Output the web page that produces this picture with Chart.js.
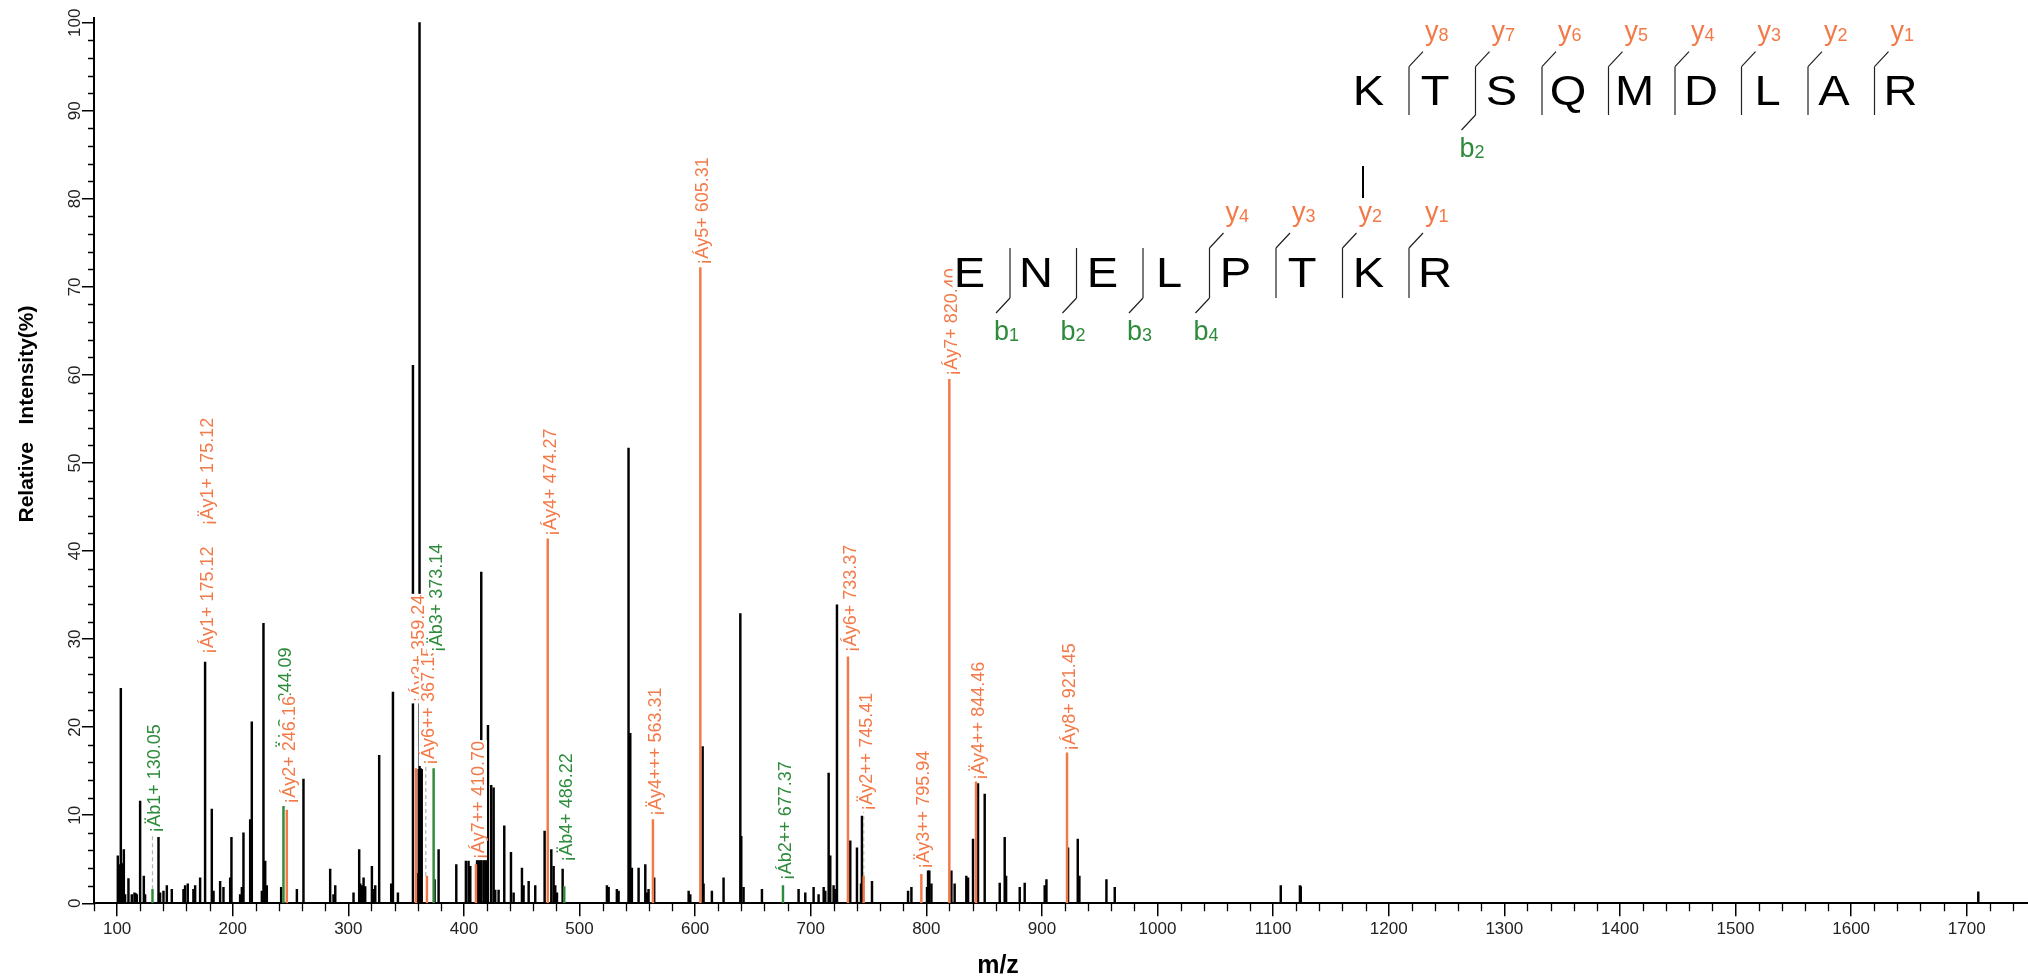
<!DOCTYPE html>
<html lang="en">
<head>
<meta charset="UTF-8" />
<title>Cross-linked peptide MS2 spectrum</title>
<script src="https://cdn.jsdelivr.net/npm/chart.js"></script>
<style>
  html, body { margin: 0; padding: 0; background: #fff; }
  #wrap { width: 2028px; height: 980px; }
</style>
</head>
<body>
<div id="wrap"><canvas id="spectrum" width="2028" height="980"></canvas></div>
<script>
// unmatched peaks: m/z and relative intensity (%)
const peakMz = [100.6, 101.7, 103.2, 104.6, 105.8, 106.9, 109.8, 112.7, 115.0, 116.2, 117.0, 119.9, 123.1, 124.2,
  135.8, 137.2, 140.1, 143.0, 147.3, 157.4, 158.8, 161.1, 166.0, 167.5, 171.8, 176.1, 181.9, 183.4, 189.1, 192.0,
  197.8, 198.9, 206.4, 207.9, 209.3, 215.1, 216.5, 225.2, 226.6, 228.1, 229.5, 241.9, 255.5, 261.2, 284.3, 287.2,
  288.7, 304.5, 309.4, 310.3, 311.7, 313.2, 314.6, 320.4, 321.8, 323.3, 326.7, 337.1, 338.6, 342.9, 355.9, 359.6,
  360.9, 361.6, 362.6, 363.5, 374.6, 378.1, 393.4, 401.7, 404.0, 405.5, 411.4, 412.7, 414.1, 415.0, 417.0, 418.5,
  419.9, 420.8, 423.6, 425.7, 427.1, 430.0, 434.9, 440.7, 443.0, 450.2, 451.6, 456.0, 461.7, 469.8, 475.6, 477.6,
  479.0, 480.5, 485.4, 523.7, 525.2, 532.3, 533.8, 542.4, 543.9, 545.3, 551.1, 556.9, 558.3, 559.7, 564.6, 594.4,
  595.8, 606.5, 607.3, 614.5, 624.6, 639.1, 639.9, 641.9, 657.8, 689.5, 695.3, 702.5, 706.8, 711.2, 712.6, 715.5,
  716.9, 719.8, 721.3, 722.7, 734.2, 740.0, 743.5, 744.3, 753.0, 784.2, 787.1, 800.6, 801.5, 802.6, 804.4, 821.7,
  824.5, 834.6, 836.1, 840.4, 844.7, 850.5, 863.5, 867.8, 869.0, 880.8, 885.1, 902.4, 903.9, 922.6, 931.0, 932.4,
  955.8, 963.0, 1106.6, 1123.2, 1123.9, 1710.0];
const peakInt = [5.4, 4.4, 24.4, 4.5, 6.1, 1.0, 2.8, 1.0, 1.2, 1.1, 1.0, 11.6, 3.1, 1.0,
  7.5, 1.2, 1.4, 2.0, 1.6, 1.6, 2.0, 2.2, 1.6, 2.0, 2.9, 27.4, 10.7, 1.4, 2.5, 1.8,
  2.9, 7.5, 1.0, 1.8, 8.0, 9.5, 20.6, 1.4, 31.8, 4.8, 2.0, 1.8, 1.6, 14.1, 3.9, 1.0,
  2.0, 1.2, 6.1, 2.2, 2.0, 2.9, 1.9, 4.2, 1.6, 2.0, 16.8, 2.2, 24.0, 1.2, 61.1, 3.4,
  15.2, 100, 15.3, 15.2, 2.7, 6.1, 4.4, 4.8, 4.8, 4.2, 4.9, 4.9, 4.9, 37.6, 4.9, 4.9,
  4.9, 20.2, 13.4, 13.1, 1.5, 1.5, 8.8, 5.8, 1.2, 4.0, 2.0, 2.5, 2.0, 8.2, 6.1, 4.2,
  2.0, 1.2, 3.9, 2.0, 1.8, 1.6, 1.4, 51.7, 19.3, 4.0, 4.0, 4.4, 1.2, 1.6, 2.9, 1.4,
  1.0, 17.8, 2.2, 1.4, 2.9, 32.9, 7.6, 1.8, 1.6, 1.6, 1.2, 1.8, 1.0, 1.8, 1.4, 14.8,
  5.4, 2.0, 1.6, 33.9, 7.1, 6.3, 2.2, 9.9, 2.5, 1.4, 1.8, 1.8, 3.7, 3.7, 2.2, 3.7,
  2.2, 3.1, 2.9, 7.3, 13.6, 12.4, 2.3, 7.5, 3.1, 1.8, 2.3, 2.0, 2.7, 6.3, 7.3, 3.1,
  2.7, 1.8, 2.0, 2.0, 1.9, 1.3];

// matched y ions (orange) and b ions (green)
const yIonMz = [246.8, 358.5, 368.0, 410.4, 472.5, 563.5, 604.5, 732.2, 745.8, 795.7, 819.9, 843.0, 921.7];
const yIonInt = [10.6, 15.3, 3.1, 4.4, 41.4, 9.5, 72.2, 28.0, 3.1, 3.3, 59.5, 13.8, 17.1];
const bIonMz = [130.6, 243.9, 373.8, 486.8, 676.0];
const bIonInt = [1.6, 11.0, 15.3, 1.9, 2.0];

// peak annotations: where the tag sits, its text, ion type, and dashed lead start
const tagMz = [130.6, 176.1, 176.1, 243.9, 246.8, 358.5, 367.0, 373.8, 410.4, 472.5,
  486.8, 563.5, 604.5, 676.0, 732.2, 745.8, 795.7, 819.9, 843.0, 921.7];
const tagAt = [7.9, 28.2, 42.8, 16.6, 11.2, 22.7, 15.6, 28.4, 4.9, 41.6,
  4.6, 9.8, 72.4, 2.5, 28.4, 10.4, 3.8, 59.8, 13.9, 17.2];
const tagText = ['¡Äb1+ 130.05', '¡Áy1+ 175.12', '¡Äy1+ 175.12', '¡Äb2+ 244.09', '¡Áy2+ 246.16',
  '¡Áy3+ 359.24', '¡Áy6++ 367.15', '¡Äb3+ 373.14', '¡Áy7++ 410.70', '¡Áy4+ 474.27',
  '¡Äb4+ 486.22', '¡Äy4+++ 563.31', '¡Áy5+ 605.31', '¡Áb2++ 677.37', '¡Áy6+ 733.37',
  '¡Äy2++ 745.41', '¡Äy3++ 795.94', '¡Áy7+ 820.40', '¡Äy4++ 844.46', '¡Áy8+ 921.45'];
const tagIon = ['b', 'y', 'y', 'b', 'y', 'y', 'y', 'b', 'y', 'y',
  'b', 'y', 'y', 'b', 'y', 'y', 'y', 'y', 'y', 'y'];
const tagLead = [1.6, null, null, null, null, null, 3.1, null, null, null,
  null, null, null, null, null, 3.1, null, null, null, null];

// axis ticks
const xMajor = [100, 200, 300, 400, 500, 600, 700, 800, 900, 1000, 1100, 1200, 1300, 1400, 1500, 1600, 1700];
const yMajor = [0, 10, 20, 30, 40, 50, 60, 70, 80, 90, 100];

// cross-linked peptides and their fragment sites
const alphaSeq = ['K', 'T', 'S', 'Q', 'M', 'D', 'L', 'A', 'R'];
const alphaY = [8, 7, 6, 5, 4, 3, 2, 1];
const alphaB = [2];
const betaSeq = ['E', 'N', 'E', 'L', 'P', 'T', 'K', 'R'];
const betaY = [4, 3, 2, 1];
const betaB = [1, 2, 3, 4];

const ORANGE = '#F37A48';
const GREEN = '#2E8B3C';
const FONT = '"Liberation Sans", Arial, sans-serif';

// one bar per peak, colored by match
const points = [];
const colors = [];
peakMz.forEach((v, i) => { points.push({x: v, y: peakInt[i]}); colors.push('#000'); });
yIonMz.forEach((v, i) => { points.push({x: v, y: yIonInt[i]}); colors.push(ORANGE); });
bIonMz.forEach((v, i) => { points.push({x: v, y: bIonInt[i]}); colors.push(GREEN); });

function ionLabel(ctx, letter, n, x, base, col) {
  ctx.fillStyle = col;
  ctx.textAlign = 'left';
  ctx.textBaseline = 'alphabetic';
  ctx.font = '27px ' + FONT;
  ctx.fillText(letter, x, base);
  const w = ctx.measureText(letter).width;
  ctx.font = '18px ' + FONT;
  ctx.fillText(String(n), x + w, base + 1);
}

function drawPeptide(ctx, p) {
  const n = p.seq.length;
  const sep = k => p.sep0 + k * p.step;
  ctx.font = '42px ' + FONT;
  ctx.textAlign = 'center';
  ctx.textBaseline = 'alphabetic';
  p.seq.forEach((ch, i) => {
    const cx = sep(i - 1) + 26;
    const w = ctx.measureText(ch).width;
    ctx.fillStyle = '#fff';
    ctx.fillRect(cx - w / 2 - 3, p.base - 33, w + 6, 35);
    ctx.fillStyle = '#000';
    ctx.save();
    ctx.translate(cx, p.base);
    ctx.scale(1.12, 1);
    ctx.fillText(ch, 0, 0);
    ctx.restore();
  });
  ctx.strokeStyle = '#222';
  ctx.lineWidth = 1.2;
  ctx.beginPath();
  for (let k = 0; k < n - 1; k++) {
    ctx.moveTo(sep(k), p.top);
    ctx.lineTo(sep(k), p.bot);
  }
  p.yIons.forEach(m => {
    const s = sep(n - 1 - m);
    ctx.moveTo(s, p.top);
    ctx.lineTo(s + 14, p.top - 15);
  });
  p.bIons.forEach(m => {
    const s = sep(m - 1);
    ctx.moveTo(s, p.bot);
    ctx.lineTo(s - 14, p.bot + 15);
  });
  ctx.stroke();
  p.yIons.forEach(m => ionLabel(ctx, 'y', m, sep(n - 1 - m) + 16, p.top - 27, ORANGE));
  p.bIons.forEach(m => ionLabel(ctx, 'b', m, sep(m - 1) - 16, p.bot + 42, GREEN));
}

const decor = {
  id: 'decor',
  afterDatasetsDraw(chart) {
    const {ctx, scales: {x, y}} = chart;
    ctx.save();
    ctx.font = '18px ' + FONT;
    ctx.textAlign = 'left';
    ctx.textBaseline = 'middle';
    tagMz.forEach((mz, i) => {
      const px = x.getPixelForValue(mz);
      const py = y.getPixelForValue(tagAt[i]);
      if (tagLead[i] !== null) {
        ctx.strokeStyle = '#b4b4b4';
        ctx.lineWidth = 1.2;
        ctx.setLineDash([4, 3]);
        ctx.beginPath();
        ctx.moveTo(px, y.getPixelForValue(tagLead[i]));
        ctx.lineTo(px, py);
        ctx.stroke();
        ctx.setLineDash([]);
      }
      const w = ctx.measureText(tagText[i]).width;
      ctx.save();
      ctx.translate(px + 2, py);
      ctx.rotate(-Math.PI / 2);
      ctx.fillStyle = '#fff';
      ctx.fillRect(0, -9, w + 2, 18);
      ctx.fillStyle = tagIon[i] === 'b' ? GREEN : ORANGE;
      ctx.fillText(tagText[i], 1, 1);
      ctx.restore();
    });
    ctx.restore();
  },
  afterDraw(chart) {
    const {ctx, chartArea: a, scales: {x, y}} = chart;
    ctx.save();
    // minor ticks
    ctx.strokeStyle = '#000';
    ctx.lineWidth = 1.3;
    ctx.beginPath();
    for (let v = 80; v <= x.max; v += 20) {
      if (xMajor.includes(v)) continue;
      const px = Math.round(x.getPixelForValue(v)) + 0.5;
      ctx.moveTo(px, a.bottom);
      ctx.lineTo(px, a.bottom + 8);
    }
    for (let v = 2; v < 100; v += 2) {
      if (yMajor.includes(v)) continue;
      const py = Math.round(y.getPixelForValue(v)) + 0.5;
      ctx.moveTo(a.left - 6, py);
      ctx.lineTo(a.left, py);
    }
    ctx.stroke();

    // y tick labels, turned
    ctx.fillStyle = '#222';
    ctx.font = '17px ' + FONT;
    ctx.textAlign = 'center';
    ctx.textBaseline = 'alphabetic';
    yMajor.forEach(v => {
      ctx.save();
      ctx.translate(a.left - 14.5, y.getPixelForValue(v));
      ctx.rotate(-Math.PI / 2);
      ctx.fillText(String(v), 0, 0);
      ctx.restore();
    });

    // axis titles
    ctx.fillStyle = '#000';
    ctx.font = 'bold 21px ' + FONT;
    ctx.save();
    ctx.translate(27, 414);
    ctx.rotate(-Math.PI / 2);
    ctx.textBaseline = 'middle';
    ctx.fillText('Relative   Intensity(%)', 0, 0);
    ctx.restore();
    ctx.font = 'bold 25px ' + FONT;
    ctx.fillText('m/z', 998, 973);

    // peptide pair
    drawPeptide(ctx, {seq: alphaSeq, sep0: 1409, step: 66.5, top: 66.7, bot: 115, base: 105, yIons: alphaY, bIons: alphaB});
    drawPeptide(ctx, {seq: betaSeq, sep0: 1010, step: 66.5, top: 248, bot: 298, base: 287, yIons: betaY, bIons: betaB});
    ctx.strokeStyle = '#000';
    ctx.lineWidth = 2;
    ctx.beginPath();
    ctx.moveTo(1363, 166);
    ctx.lineTo(1363, 198);
    ctx.stroke();
    ctx.restore();
  }
};

new Chart(document.getElementById('spectrum'), {
  type: 'bar',
  data: {
    datasets: [{
      label: 'Relative intensity',
      data: points,
      backgroundColor: colors,
      borderWidth: 0,
      barThickness: 1.8
    }]
  },
  options: {
    responsive: false,
    animation: false,
    events: [],
    layout: { padding: { top: 18.3, left: 0, right: 0, bottom: 0 } },
    plugins: { legend: { display: false }, tooltip: { enabled: false } },
    scales: {
      x: {
        type: 'linear',
        min: 80,
        max: 1753,
        offset: false,
        afterBuildTicks: s => { s.ticks = xMajor.map(v => ({ value: v })); },
        afterFit: s => { s.height = 76.7; },
        grid: { display: true, offset: false, drawOnChartArea: false, drawTicks: true, tickLength: 13, color: '#000', lineWidth: 1.5 },
        border: { display: true, color: '#000', width: 2 },
        ticks: { font: { family: FONT, size: 17 }, color: '#222', maxRotation: 0, minRotation: 0, autoSkip: false, padding: 3,
          callback: v => String(v) }
      },
      y: {
        type: 'linear',
        min: 0,
        max: 100.5,
        stacked: false,
        afterBuildTicks: s => { s.ticks = yMajor.map(v => ({ value: v })); },
        afterFit: s => { s.width = 94; },
        grid: { drawOnChartArea: false, drawTicks: true, tickLength: 12, color: '#000', lineWidth: 1.5 },
        border: { display: true, color: '#000', width: 2 },
        ticks: { display: false }
      }
    }
  },
  plugins: [decor]
});
</script>
</body>
</html>
